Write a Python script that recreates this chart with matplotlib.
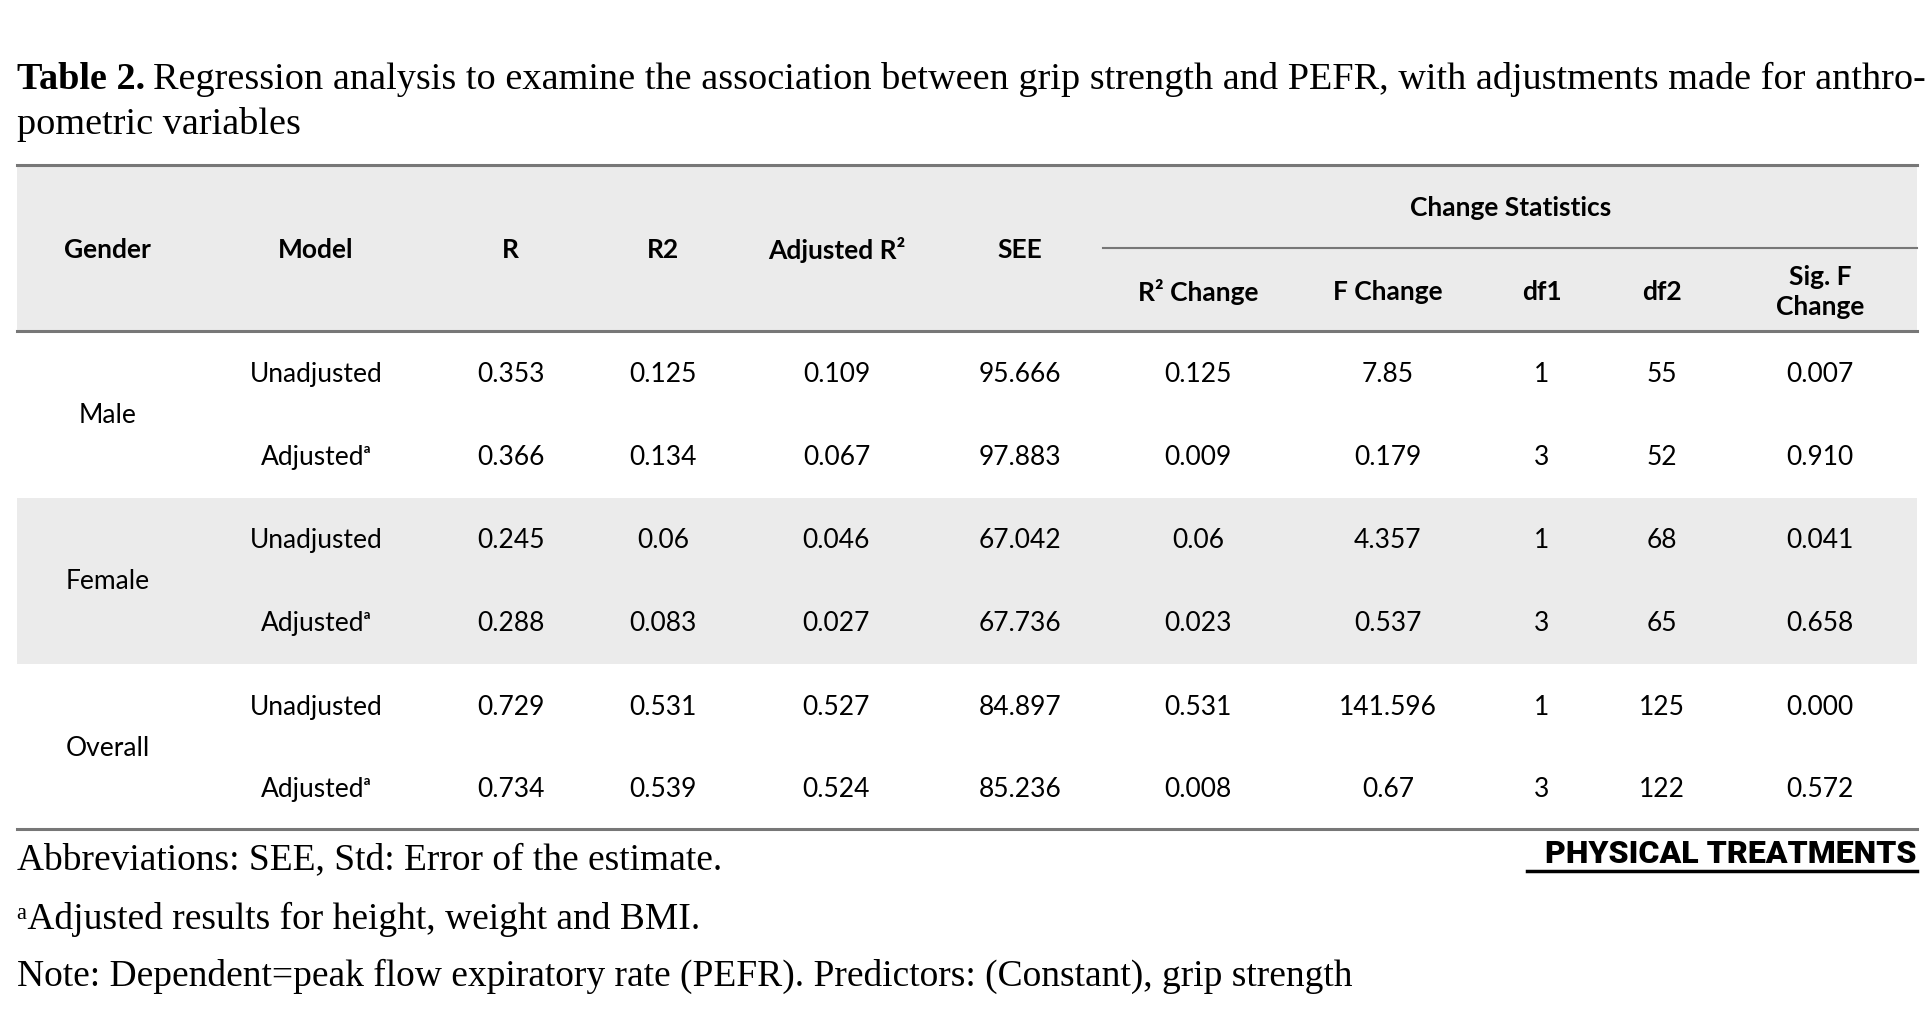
import matplotlib.pyplot as plt
from matplotlib.patches import Rectangle

genders = ["Male", "Female", "Overall"]
models = ["Unadjusted", "Adjustedᵃ"]
R = ["0.353", "0.366", "0.245", "0.288", "0.729", "0.734"]
R2 = ["0.125", "0.134", "0.06", "0.083", "0.531", "0.539"]
adjR2 = ["0.109", "0.067", "0.046", "0.027", "0.527", "0.524"]
SEE = ["95.666", "97.883", "67.042", "67.736", "84.897", "85.236"]
r2change = ["0.125", "0.009", "0.06", "0.023", "0.531", "0.008"]
fchange = ["7.85", "0.179", "4.357", "0.537", "141.596", "0.67"]
df1 = ["1", "3", "1", "3", "1", "3"]
df2 = ["55", "52", "68", "65", "125", "122"]
sigf = ["0.007", "0.910", "0.041", "0.658", "0.000", "0.572"]

sans = ["Lato", "DejaVu Sans"]
serif = ["Liberation Serif", "DejaVu Serif"]

fig = plt.figure(figsize=(19.33, 10.15), dpi=100)
ax = fig.add_axes([0, 0, 1, 1])
ax.set_xlim(0, 1560)
ax.set_ylim(819, 0)
ax.axis("off")

L, Rr = 14, 1547
gray = "#ebebeb"
ax.add_patch(Rectangle((L, 133), Rr - L, 134, color=gray, lw=0))
ax.add_patch(Rectangle((L, 402), Rr - L, 134, color=gray, lw=0))
for y in (133, 267, 669):
    ax.plot([L, Rr], [y, y], color="#777777", lw=2.2)
ax.plot([890, Rr], [200, 200], color="#777777", lw=1.5)

# title
t = ax.text(L, 72, "Table 2.", fontsize=27.5, family=serif, weight="bold", va="baseline")
fig.canvas.draw()
bb = t.get_window_extent().transformed(ax.transData.inverted())
ax.text(bb.x1 + 6, 72, "Regression analysis to examine the association between grip strength and PEFR, with adjustments made for anthro-",
        fontsize=27.5, family=serif, va="baseline")
ax.text(L, 108, "pometric variables", fontsize=27.5, family=serif, va="baseline")

cols = [87, 255, 412, 535, 675, 823, 967, 1120, 1244, 1341, 1469]
hkw = dict(fontsize=19, family=sans, weight="bold", ha="center", va="center")
for x, h in zip(cols[:6], ["Gender", "Model", "R", "R2", "Adjusted R²", "SEE"]):
    ax.text(x, 202, h, **hkw)
ax.text(1219, 168, "Change Statistics", **hkw)
for x, h in zip(cols[6:], ["R² Change", "F Change", "df1", "df2", "Sig. F\nChange"]):
    ax.text(x, 236, h, linespacing=1.3, **hkw)

rows_y = [302, 369, 436, 503, 571, 637]
bkw = dict(fontsize=19, family=sans, ha="center", va="center")
for i, g in enumerate(genders):
    ax.text(cols[0], (rows_y[2 * i] + rows_y[2 * i + 1]) / 2, g, **bkw)
data = [R, R2, adjR2, SEE, r2change, fchange, df1, df2, sigf]
for j, y in enumerate(rows_y):
    ax.text(cols[1], y, models[j % 2], **bkw)
    for x, col in zip(cols[2:], data):
        ax.text(x, y, col[j], **bkw)

fkw = dict(fontsize=27, family=serif, va="center")
ax.text(L, 694, "Abbreviations: SEE, Std: Error of the estimate.", **fkw)
ax.text(L, 742, "ᵃAdjusted results for height, weight and BMI.", **fkw)
ax.text(L, 788, "Note: Dependent=peak flow expiratory rate (PEFR). Predictors: (Constant), grip strength", **fkw)

ax.text(Rr, 689, "PHYSICAL TREATMENTS", fontsize=23, family=["Roboto", "DejaVu Sans"], weight="black",
        ha="right", va="center")
ax.plot([1232, Rr], [703, 703], color="black", lw=2.5)

fig.savefig("out.png", dpi=100)
